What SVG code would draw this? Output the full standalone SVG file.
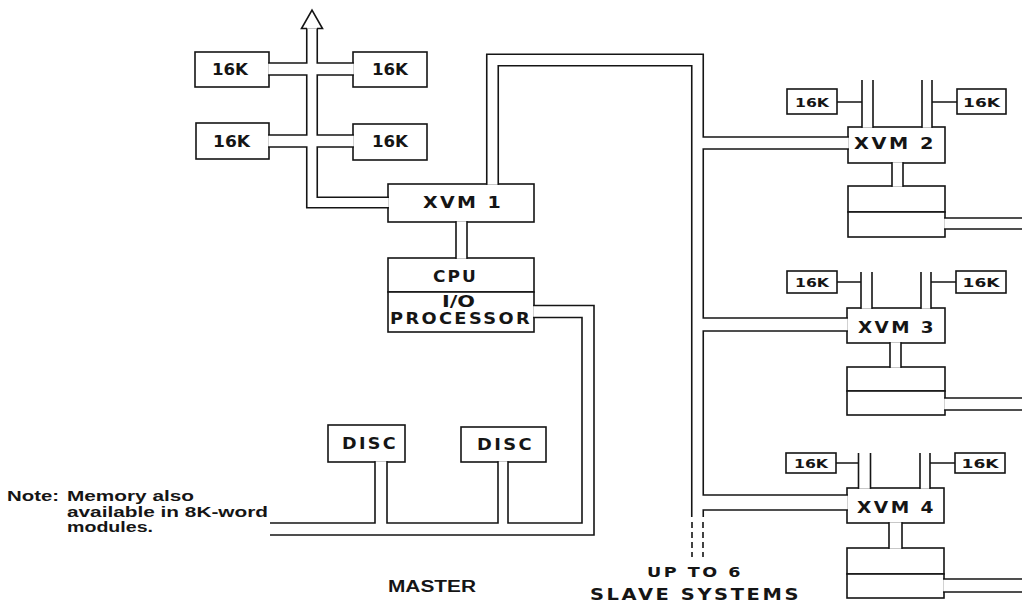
<svg xmlns="http://www.w3.org/2000/svg" width="1022" height="602" viewBox="0 0 1022 602">
<style>
.box{fill:#fff;stroke:#151515;stroke-width:1.6}
.po{fill:none;stroke:#151515;stroke-linejoin:miter;stroke-linecap:butt}
.pi{fill:none;stroke:#fff;stroke-linejoin:miter;stroke-linecap:butt}
.ln{fill:none;stroke:#151515;stroke-width:1.6}
.dash{stroke-dasharray:6 4}
.t{font-family:"DejaVu Sans","Liberation Sans",sans-serif;font-weight:bold;fill:#151515}
.w{letter-spacing:2px}
.h{font-family:"Liberation Sans",Arial,sans-serif;font-weight:bold;fill:#151515}
</style>
<defs>
<path id="w105" d="M312,28.5 V202.5 H388.8"/>
<path id="w12" d="M268.2,69 H353.8 M268.2,141 H353.8 M697.5,143 H848.8 M533.2,311.5 H588 V529 H270 M381,461.2 V529 M944.2,404 H1024 M864.5,488.8 V453"/>
<path id="w115" d="M492.5,184.8 V60 H697.5 V517"/>
<path id="w13" d="M697.5,324.5 H847.8 M895.5,522.2 V548.8 M943.2,585.5 H1024"/>
<path id="w15" d="M697.5,502.5 H847.8"/>
<path id="w11" d="M461.5,221.2 V258.8 M897.5,162.2 V186.8 M867.5,127.8 V80 M944.2,223.5 H1024 M895.5,342.2 V367.8 M866.5,308.8 V272"/>
<path id="w10" d="M503,461.2 V529 M927,127.8 V80 M926,308.8 V272 M925,488.8 V453"/>
</defs>
<rect width="1022" height="602" fill="#fff"/>

<g id="mem-1a"><rect class="box" x="195" y="52" width="74" height="35"/><text class="t" x="212" y="75" font-size="16" textLength="36" lengthAdjust="spacingAndGlyphs">16K</text></g>
<g id="mem-1b"><rect class="box" x="353" y="52" width="74" height="35"/><text class="t" x="372" y="75" font-size="16" textLength="36" lengthAdjust="spacingAndGlyphs">16K</text></g>
<g id="mem-1c"><rect class="box" x="196" y="123" width="73" height="36"/><text class="t" x="213" y="147" font-size="16" textLength="37" lengthAdjust="spacingAndGlyphs">16K</text></g>
<g id="mem-1d"><rect class="box" x="353" y="124" width="74" height="36"/><text class="t" x="372" y="147" font-size="16" textLength="36" lengthAdjust="spacingAndGlyphs">16K</text></g>

<g id="xvm1"><rect class="box" x="388" y="184" width="146" height="38"/><text class="t w" x="423" y="208" font-size="16" textLength="80" lengthAdjust="spacingAndGlyphs">XVM 1</text></g>
<g id="cpu"><rect class="box" x="388" y="258" width="146" height="34"/><text class="t w" x="433" y="282" font-size="16" textLength="45" lengthAdjust="spacingAndGlyphs">CPU</text></g>
<g id="io"><rect class="box" x="388" y="292" width="146" height="40"/><text class="t" x="442" y="307" font-size="15" textLength="33" lengthAdjust="spacingAndGlyphs">I/O</text><text class="t w" x="390" y="324" font-size="15" textLength="142" lengthAdjust="spacingAndGlyphs">PROCESSOR</text></g>
<g id="disc1"><rect class="box" x="328" y="425" width="77" height="37"/><text class="t w" x="342" y="449" font-size="15" textLength="56" lengthAdjust="spacingAndGlyphs">DISC</text></g>
<g id="disc2"><rect class="box" x="461" y="427" width="85" height="35"/><text class="t w" x="477" y="450" font-size="15" textLength="57" lengthAdjust="spacingAndGlyphs">DISC</text></g>

<g id="xvm2">
<rect class="box" x="848" y="127" width="97" height="36"/><text class="t w" x="854" y="149" font-size="15" textLength="82" lengthAdjust="spacingAndGlyphs">XVM 2</text>
</g>
<g id="mem-2a"><rect class="box" x="787" y="89" width="50" height="25"/><text class="t" x="812" y="107" font-size="13" text-anchor="middle" textLength="34" lengthAdjust="spacingAndGlyphs">16K</text></g>
<g id="mem-2b"><rect class="box" x="957" y="89" width="49" height="25"/><text class="t" x="981.5" y="107" font-size="13" text-anchor="middle" textLength="37" lengthAdjust="spacingAndGlyphs">16K</text></g>
<g id="unit-2"><rect class="box" x="848" y="186" width="97" height="26"/><rect class="box" x="848" y="212" width="97" height="25"/></g>

<g id="xvm3">
<rect class="box" x="847" y="308" width="98" height="35"/><text class="t w" x="858" y="333" font-size="15" textLength="78" lengthAdjust="spacingAndGlyphs">XVM 3</text>
</g>
<g id="mem-3a"><rect class="box" x="787" y="271" width="50" height="22"/><text class="t" x="812" y="287" font-size="13" text-anchor="middle" textLength="34" lengthAdjust="spacingAndGlyphs">16K</text></g>
<g id="mem-3b"><rect class="box" x="956" y="271" width="50" height="22"/><text class="t" x="981" y="287" font-size="13" text-anchor="middle" textLength="37" lengthAdjust="spacingAndGlyphs">16K</text></g>
<g id="unit-3"><rect class="box" x="847" y="367" width="98" height="24"/><rect class="box" x="847" y="391" width="98" height="24"/></g>

<g id="xvm4">
<rect class="box" x="847" y="488" width="97" height="35"/><text class="t w" x="857" y="513" font-size="15" textLength="79" lengthAdjust="spacingAndGlyphs">XVM 4</text>
</g>
<g id="mem-4a"><rect class="box" x="786" y="453" width="50" height="20"/><text class="t" x="811" y="468" font-size="13" text-anchor="middle" textLength="34" lengthAdjust="spacingAndGlyphs">16K</text></g>
<g id="mem-4b"><rect class="box" x="955" y="453" width="50" height="20"/><text class="t" x="980" y="468" font-size="13" text-anchor="middle" textLength="37" lengthAdjust="spacingAndGlyphs">16K</text></g>
<g id="unit-4"><rect class="box" x="847" y="548" width="97" height="26"/><rect class="box" x="847" y="574" width="97" height="24"/></g>

<g id="connectors">
<use href="#w105" class="po" stroke-width="12.1"/>
<use href="#w12" class="po" stroke-width="13.6"/>
<use href="#w115" class="po" stroke-width="13.1"/>
<use href="#w13" class="po" stroke-width="14.6"/>
<use href="#w15" class="po" stroke-width="16.6"/>
<use href="#w11" class="po" stroke-width="12.6"/>
<use href="#w10" class="po" stroke-width="11.6"/>
<use href="#w105" class="pi" stroke-width="8.9"/>
<use href="#w12" class="pi" stroke-width="10.4"/>
<use href="#w115" class="pi" stroke-width="9.9"/>
<use href="#w13" class="pi" stroke-width="11.4"/>
<use href="#w15" class="pi" stroke-width="13.4"/>
<use href="#w11" class="pi" stroke-width="9.4"/>
<use href="#w10" class="pi" stroke-width="8.4"/>
<path class="ln" d="M307,28.5 H301.5 L312,10 L322.5,28.5 H317" fill="#fff"/>
<path class="ln" d="M837,102 H862 M932,102 H957 M837,282 H861 M931,282 H956 M836,463 H858.5 M930,463 H955"/>
<path class="ln dash" d="M692,522 V557 M703,522 V557"/>
</g>

<g id="labels">
<text class="h" x="7" y="501" font-size="15" textLength="52" lengthAdjust="spacingAndGlyphs">Note:</text>
<text class="h" x="67" y="501" font-size="15" textLength="127" lengthAdjust="spacingAndGlyphs">Memory also</text>
<text class="h" x="67" y="517" font-size="15" textLength="201" lengthAdjust="spacingAndGlyphs">available in 8K-word</text>
<text class="h" x="67" y="532" font-size="15" textLength="86" lengthAdjust="spacingAndGlyphs">modules.</text>
<text class="h" x="388" y="592" font-size="16" textLength="88" lengthAdjust="spacingAndGlyphs">MASTER</text>
<text class="t w" x="647" y="577" font-size="14" textLength="96" lengthAdjust="spacingAndGlyphs">UP TO 6</text>
<text class="t w" x="590" y="600" font-size="15" textLength="211" lengthAdjust="spacingAndGlyphs">SLAVE SYSTEMS</text>
</g>
</svg>
